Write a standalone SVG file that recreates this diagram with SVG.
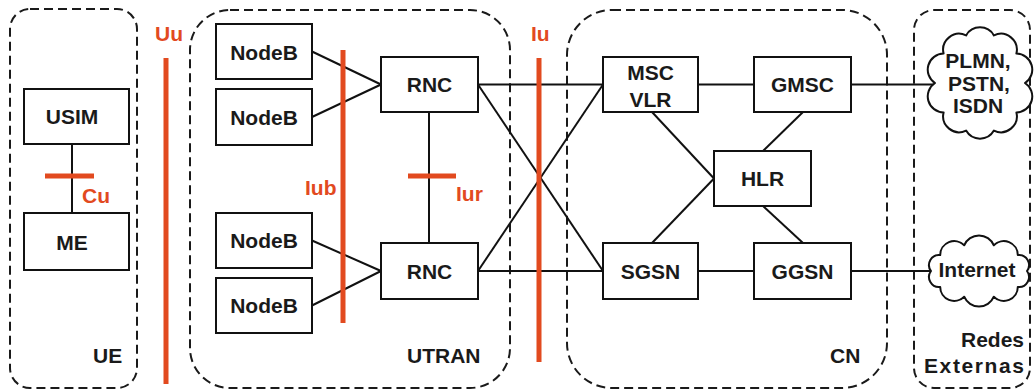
<svg xmlns="http://www.w3.org/2000/svg" width="1036" height="392" viewBox="0 0 1036 392">
<style>
.bg{fill:#ffffff}
.grp{fill:none;stroke:#1a1a1a;stroke-width:2;stroke-dasharray:9 5}
.box{fill:#ffffff;stroke:#111111;stroke-width:2}
.cloud{fill:#ffffff;stroke:#111111;stroke-width:2;stroke-linejoin:round}
.ln{stroke:#111111;stroke-width:2;fill:none}
.if{stroke:#e24a1f;stroke-width:5;fill:none}
.t{font-family:"Liberation Sans",Arial,sans-serif;font-weight:bold;font-size:21px;fill:#1a1a1a;text-anchor:middle}
.lbl{font-family:"Liberation Sans",Arial,sans-serif;font-weight:bold;font-size:21px;fill:#1a1a1a}
.r{font-family:"Liberation Sans",Arial,sans-serif;font-weight:bold;font-size:21px;fill:#e24a1f}
</style>
<rect class="bg" x="0" y="0" width="1036" height="392"/>

<g id="domains">
  <g id="ue-domain"><rect class="grp" x="10" y="9" width="127" height="379" rx="20" ry="20"/><text class="lbl" x="93" y="363">UE</text></g>
  <g id="utran-domain"><rect class="grp" x="190" y="10" width="320" height="378" rx="40" ry="40"/><text class="lbl" x="407" y="363">UTRAN</text></g>
  <g id="cn-domain"><rect class="grp" x="567" y="10" width="320" height="378" rx="45" ry="45"/><text class="lbl" x="830" y="363">CN</text></g>
  <g id="ext-domain"><rect class="grp" x="914" y="10" width="116" height="378" rx="20" ry="20"/><text class="lbl" x="1024" y="347" text-anchor="end">Redes</text><text class="lbl" x="1024" y="373" text-anchor="end" textLength="100">Externas</text></g>
</g>

<g id="connectors">
  <line class="ln" x1="72" y1="144" x2="72" y2="213"/>
  <line class="ln" x1="312" y1="51.5" x2="381" y2="84.5"/>
  <line class="ln" x1="312" y1="117" x2="381" y2="84.5"/>
  <line class="ln" x1="312" y1="240.5" x2="381" y2="271"/>
  <line class="ln" x1="312" y1="305.5" x2="381" y2="271"/>
  <line class="ln" x1="429" y1="112" x2="429" y2="243"/>
  <line class="ln" x1="478" y1="84.5" x2="603" y2="84.5"/>
  <line class="ln" x1="478" y1="84.5" x2="603" y2="271"/>
  <line class="ln" x1="478" y1="271" x2="603" y2="84.5"/>
  <line class="ln" x1="478" y1="271" x2="603" y2="271"/>
  <line class="ln" x1="698" y1="84.5" x2="754" y2="84.5"/>
  <line class="ln" x1="652" y1="112" x2="714" y2="178.5"/>
  <line class="ln" x1="652" y1="243" x2="714" y2="178.5"/>
  <line class="ln" x1="803" y1="112" x2="763" y2="151"/>
  <line class="ln" x1="763" y1="206" x2="803" y2="243"/>
  <line class="ln" x1="698" y1="271" x2="754" y2="271"/>
  <line class="ln" x1="851" y1="84.5" x2="936" y2="84.5"/>
  <line class="ln" x1="851" y1="271" x2="932" y2="271"/>
</g>

<g id="interfaces">
  <g id="if-uu"><line class="if" x1="166" y1="58" x2="166" y2="384"/><text class="r" x="155" y="41">Uu</text></g>
  <g id="if-cu"><line class="if" x1="45" y1="176" x2="94" y2="176"/><text class="r" x="82" y="203">Cu</text></g>
  <g id="if-iub"><line class="if" x1="343" y1="50" x2="343" y2="323"/><text class="r" x="305" y="195">Iub</text></g>
  <g id="if-iur"><line class="if" x1="408" y1="176" x2="456" y2="176"/><text class="r" x="456" y="201">Iur</text></g>
  <g id="if-iu"><line class="if" x1="539" y1="58" x2="539" y2="362"/><text class="r" x="531" y="41">Iu</text></g>
</g>

<g id="usim"><rect class="box" x="24" y="89" width="105" height="55"/><text class="t" x="72" y="124">USIM</text></g>
<g id="me"><rect class="box" x="24" y="213" width="105" height="57"/><text class="t" x="72" y="250">ME</text></g>

<g id="nodeb1"><rect class="box" x="216" y="24" width="96" height="55"/><text class="t" x="264" y="60">NodeB</text></g>
<g id="nodeb2"><rect class="box" x="216" y="89" width="96" height="56"/><text class="t" x="264" y="125">NodeB</text></g>
<g id="nodeb3"><rect class="box" x="216" y="213" width="96" height="55"/><text class="t" x="264" y="248">NodeB</text></g>
<g id="nodeb4"><rect class="box" x="216" y="278" width="96" height="55"/><text class="t" x="264" y="313">NodeB</text></g>

<g id="rnc1"><rect class="box" x="381" y="57" width="97" height="55"/><text class="t" x="429.5" y="92">RNC</text></g>
<g id="rnc2"><rect class="box" x="381" y="243" width="97" height="56"/><text class="t" x="429.5" y="279">RNC</text></g>

<g id="msc-vlr"><rect class="box" x="603" y="57" width="95" height="55"/><text class="t" x="650.5" y="80">MSC</text><text class="t" x="650.5" y="107">VLR</text></g>
<g id="gmsc"><rect class="box" x="754" y="57" width="97" height="55"/><text class="t" x="802.5" y="92">GMSC</text></g>
<g id="hlr"><rect class="box" x="714" y="151" width="97" height="55"/><text class="t" x="762.5" y="186">HLR</text></g>
<g id="sgsn"><rect class="box" x="603" y="243" width="95" height="56"/><text class="t" x="650.5" y="279">SGSN</text></g>
<g id="ggsn"><rect class="box" x="754" y="243" width="97" height="56"/><text class="t" x="802.5" y="279">GGSN</text></g>

<g id="cloud-plmn">
  <path class="cloud" d="M1025,83 A16,16 0 0 1 1016.4,112.4 A16,16 0 0 1 993.9,130.6 A16,16 0 0 1 966.1,130.6 A16,16 0 0 1 943.6,112.4 A16,16 0 0 1 935,83 A16,16 0 0 1 943.6,53.6 A16,16 0 0 1 966.1,35.4 A16,16 0 0 1 993.9,35.4 A16,16 0 0 1 1016.4,53.6 A16,16 0 0 1 1025,83 Z"/>
  <text class="t" x="978" y="68">PLMN,</text>
  <text class="t" x="979" y="90.5">PSTN,</text>
  <text class="t" x="978" y="113">ISDN</text>
</g>
<g id="cloud-internet">
  <path class="cloud" d="M1027,271 A10,10 0 0 1 1017.8,286.9 A14,14 0 0 1 993.8,296.7 A16,16 0 0 1 964.2,296.7 A14,14 0 0 1 940.2,286.9 A10,10 0 0 1 931,271 A10,10 0 0 1 940.2,255.1 A14,14 0 0 1 964.2,245.3 A16,16 0 0 1 993.8,245.3 A14,14 0 0 1 1017.8,255.1 A10,10 0 0 1 1027,271 Z"/>
  <text class="t" x="977" y="277">Internet</text>
</g>
</svg>
